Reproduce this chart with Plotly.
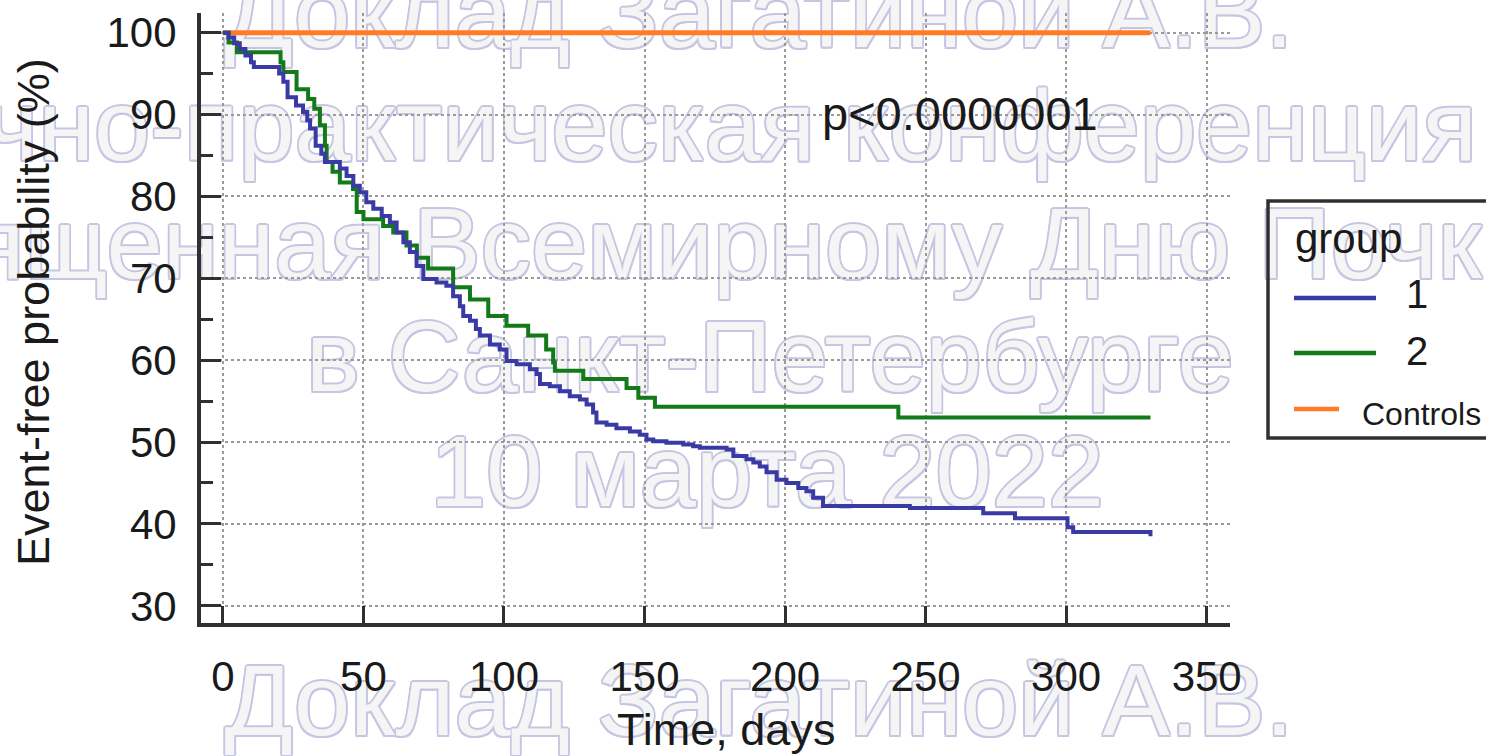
import plotly.graph_objects as go

W, H = 1486, 756
FONT = "Liberation Sans, Arial, sans-serif"

# group 1 (blue), Kaplan-Meier steps: day of event -> event-free %
g1_days = [0, 2, 4, 6, 8, 10, 11, 20, 21.5, 23,
           26, 28.5, 30, 31, 33, 35, 36.3, 41.6, 44, 46.4,
           48.7, 51, 53.5, 56.5, 59.4, 61.8, 64.2, 66.5, 68.9, 71.3,
           76, 79.5, 81.9, 84.3, 85.5, 87.9, 90, 91.4, 95, 98.5,
           100.9, 104.5, 109.2, 111.6, 112.8, 116.3, 119.9, 123.4, 127, 129.4,
           131.7, 132.9, 136.5, 140, 144.8, 148.3, 150.7, 153.1, 157.8, 163.8,
           167.3, 169.7, 179.2, 181.6, 186.3, 188.7, 191, 193.4, 197, 200.5,
           204.7, 207.6, 210, 213.5, 244.4, 270.5, 281.8, 300.5, 302.5, 330]
g1_surv = [100, 99.4, 98.7, 98.0, 97.2, 96.4, 95.8, 95.0, 94.0, 92.1,
           91.1, 90.3, 89.3, 88.3, 86.2, 85.2, 84.2, 83.4, 82.5, 81.3,
           80.5, 79.3, 78.5, 77.6, 76.8, 75.6, 74.4, 73.2, 71.5, 69.9,
           69.5, 69.1, 67.8, 66.6, 65.4, 64.8, 63.8, 63.0, 61.9, 61.3,
           59.9, 59.5, 58.9, 58.3, 57.1, 56.8, 56.2, 55.6, 55.2, 54.6,
           53.6, 52.4, 52.1, 51.7, 51.3, 50.9, 50.3, 50.1, 49.9, 49.7,
           49.5, 49.3, 49.1, 48.3, 47.9, 47.5, 47.0, 46.3, 45.4, 45.0,
           44.4, 44.0, 43.2, 42.2, 41.95, 41.3, 40.7, 39.6, 39.0, 38.5]

# group 2 (green)
g2_days = [0, 2, 5, 20.5, 21.5, 26.2, 30.3, 32.5, 34.5, 36.3,
           36.9, 39, 41.6, 46.3, 47.6, 50, 57, 60.6, 65.3, 69,
           73, 81.9, 87.9, 94.4, 100.9, 108.6, 115, 117.5, 118.1, 128.2,
           143.6, 147.8, 153.7, 240.3, 330]
g2_surv = [100, 98.8, 97.6, 96.4, 95.2, 93.1, 91.9, 90.7, 88.7, 86.2,
           84.2, 83.0, 81.7, 80.9, 78.1, 77.2, 76.4, 75.6, 74.0, 72.5,
           71.2, 68.9, 67.4, 65.4, 64.2, 63.0, 61.3, 59.7, 58.7, 57.7,
           56.6, 55.4, 54.3, 53.0, 53.0]

# controls (orange)
ctrl_days = [0, 330]
ctrl_surv = [100, 100]

x_ticks = [0, 50, 100, 150, 200, 250, 300, 350]
y_ticks = [30, 40, 50, 60, 70, 80, 90, 100]
y_minor = [35, 45, 55, 65, 75, 85, 95]

legend_title = "group"
legend_names = ["1", "2", "Controls"]
p_label = "p<0.0000001"
x_title = "Time, days"
y_title = "Event-free probability (%)"

watermark = [
    "Доклад Загатиной А.В.",
    "Научно-практическая конференция",
    "посвященная Всемирному Дню Почки",
    "в Санкт-Петербурге",
    "10 марта 2022",
    "Доклад Загатиной А.В.",
]

BLUE = "#3a3aa6"
GREEN = "#127a18"
ORANGE = "#ff7c24"
INK = "#1a1a1a"
AXIS = "#303030"


def px(x):
    return x / W


def py(y):
    return 1 - y / H


fig = go.Figure()

# watermark lives on a full-page subplot drawn underneath the data subplot
wm_size = 101
wm_x = [759, 642, 647, 770, 767, 759]
wm_y = [b - 0.25 * wm_size for b in [47, 160, 278, 391, 506, 735]]
outline = ", ".join(f"{dx}px {dy}px 0 #c6c6e2" for dx, dy in
                    [(-1.5, -1.5), (1.5, -1.5), (-1.5, 1.5), (1.5, 1.5),
                     (0, 1.8), (0, -1.8), (1.8, 0), (-1.8, 0)])
fig.add_trace(go.Scatter(
    x=wm_x, y=wm_y, text=watermark, mode="text",
    textposition="middle center",
    textfont=dict(family=FONT, size=wm_size, color="#f5f5f5", shadow=outline),
    cliponaxis=False, hoverinfo="skip", showlegend=False,
    xaxis="x", yaxis="y"))

fig.add_trace(go.Scatter(x=ctrl_days, y=ctrl_surv, mode="lines",
                         line=dict(color=ORANGE, width=5, shape="hv"),
                         xaxis="x2", yaxis="y2", showlegend=False))
fig.add_trace(go.Scatter(x=g2_days, y=g2_surv, mode="lines",
                         line=dict(color=GREEN, width=4, shape="hv"),
                         xaxis="x2", yaxis="y2", showlegend=False))
fig.add_trace(go.Scatter(x=g1_days, y=g1_surv, mode="lines",
                         line=dict(color=BLUE, width=4, shape="hv"),
                         xaxis="x2", yaxis="y2", showlegend=False))

tickfont = dict(family=FONT, size=42, color=INK)

# hand-drawn legend box, like the original
shapes = [dict(type="rect", xref="paper", yref="paper",
               x0=px(1268), x1=px(1500), y0=py(438), y1=py(201),
               line=dict(color=AXIS, width=3.5))]
leg_y = [298, 353, 409]
leg_len = [82, 82, 45]
leg_col = [BLUE, GREEN, ORANGE]
for yy, ln, col in zip(leg_y, leg_len, leg_col):
    shapes.append(dict(type="line", xref="paper", yref="paper",
                       x0=px(1294), x1=px(1294 + ln), y0=py(yy), y1=py(yy),
                       line=dict(color=col, width=4.5)))

annotations = [
    dict(text=p_label, xref="x2", yref="y2", x=212.5, y=90.1,
         xanchor="left", yanchor="middle", showarrow=False,
         font=dict(family=FONT, size=47, color=INK)),
    dict(text=x_title, xref="paper", yref="paper", x=px(726), y=py(729),
         xanchor="center", yanchor="middle", showarrow=False,
         font=dict(family=FONT, size=45, color=INK)),
    dict(text=y_title, xref="paper", yref="paper", x=px(33), y=py(312),
         xanchor="center", yanchor="middle", textangle=-90, showarrow=False,
         font=dict(family=FONT, size=45, color=INK)),
    dict(text=legend_title, xref="paper", yref="paper", x=px(1293), y=py(238),
         xanchor="left", yanchor="middle", showarrow=False,
         font=dict(family=FONT, size=42, color=INK)),
    dict(text=legend_names[0], xref="paper", yref="paper", x=px(1417), y=py(294),
         xanchor="center", yanchor="middle", showarrow=False,
         font=dict(family=FONT, size=40, color=INK)),
    dict(text=legend_names[1], xref="paper", yref="paper", x=px(1417), y=py(351),
         xanchor="center", yanchor="middle", showarrow=False,
         font=dict(family=FONT, size=40, color=INK)),
    dict(text=legend_names[2], xref="paper", yref="paper", x=px(1360), y=py(414),
         xanchor="left", yanchor="middle", showarrow=False,
         font=dict(family=FONT, size=32, color=INK)),
]

fig.update_layout(
    template="none",
    width=W, height=H, autosize=False,
    margin=dict(l=0, r=0, t=0, b=0, pad=0),
    paper_bgcolor="white",
    plot_bgcolor="rgba(0,0,0,0)",
    showlegend=False,
    xaxis=dict(domain=[0, 1], range=[0, W], visible=False, fixedrange=True),
    yaxis=dict(domain=[0, 1], range=[H, 0], visible=False, fixedrange=True),
    xaxis2=dict(
        domain=[px(201), px(1230)], anchor="y2", range=[-7.8, 358.3],
        tickmode="array", tickvals=x_ticks, ticks="inside", ticklen=17,
        tickwidth=3, tickcolor=AXIS, showline=True, linewidth=4,
        linecolor=AXIS, showgrid=True, gridcolor="#9a9a9a", griddash="dot",
        gridwidth=1.5, zeroline=False, tickfont=tickfont,
        ticklabelstandoff=14, automargin=False),
    yaxis2=dict(
        domain=[py(623), py(13)], anchor="x2", range=[27.9, 102.4],
        tickmode="array", tickvals=y_ticks, ticks="inside", ticklen=20,
        tickwidth=3, tickcolor=AXIS, showline=True, linewidth=4,
        linecolor=AXIS, showgrid=True, gridcolor="#9a9a9a", griddash="dot",
        gridwidth=1.5, zeroline=False, tickfont=tickfont,
        ticklabelstandoff=12, automargin=False,
        minor=dict(tickmode="array", tickvals=y_minor, ticks="inside",
                   ticklen=12, tickwidth=3, tickcolor=AXIS, showgrid=False)),
    shapes=shapes,
    annotations=annotations,
)

# drop the browser's default 8px body margin so the figure fills the window
fig.write_html("out.html", config={"displayModeBar": False},
               post_script="document.body.style.margin = '0';")
